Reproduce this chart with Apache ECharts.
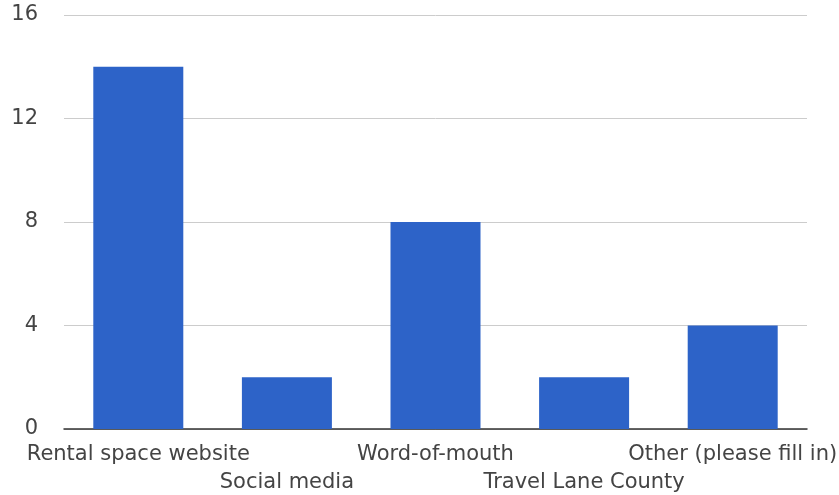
<!DOCTYPE html>
<html>
<head>
<meta charset="utf-8">
<script src="https://cdn.jsdelivr.net/npm/echarts@6/dist/echarts.min.js"></script>
<style>
  html, body { margin: 0; padding: 0; background: #fff; }
  #chart { width: 839px; height: 495px; }
</style>
</head>
<body>
<div id="chart"></div>
<script>
const categories = [
  "Rental space website",
  "Social media",
  "Word-of-mouth",
  "Travel Lane County",
  "Other (please fill in)",
]
const counts = [14, 2, 8, 2, 4]
const yTicks = { min: 0, max: 16, interval: 4 }

const labelFont = "DejaVu Sans, Arial, sans-serif"

const chart = echarts.init(document.getElementById("chart"))

chart.setOption({
  animation: false,
  grid: { left: 64, right: 32, top: 15, bottom: 66, outerBoundsMode: "none" },
  xAxis: {
    type: "category",
    data: categories,
    axisTick: { show: false },
    axisLine: { lineStyle: { color: "#333", width: 1.5 } },
    axisLabel: {
      interval: 0,
      margin: 12,
      fontFamily: labelFont,
      fontSize: 21,
      lineHeight: 28,
      color: "#444",
      verticalAlign: "top",
      // alternate rows so the long labels don't collide
      formatter: (v, i) => (i % 2 ? "\n" + v : v),
    },
  },
  yAxis: {
    type: "value",
    min: yTicks.min,
    max: yTicks.max,
    interval: yTicks.interval,
    axisLine: { show: false },
    axisTick: { show: false },
    axisLabel: {
      margin: 26,
      fontFamily: labelFont,
      fontSize: 21,
      color: "#444",
    },
    splitLine: { lineStyle: { color: "#ccc", width: 1 } },
  },
  series: [
    {
      type: "bar",
      data: counts,
      barWidth: 90,
      itemStyle: { color: "#2d63c8" },
    },
  ],
})
</script>
</body>
</html>
